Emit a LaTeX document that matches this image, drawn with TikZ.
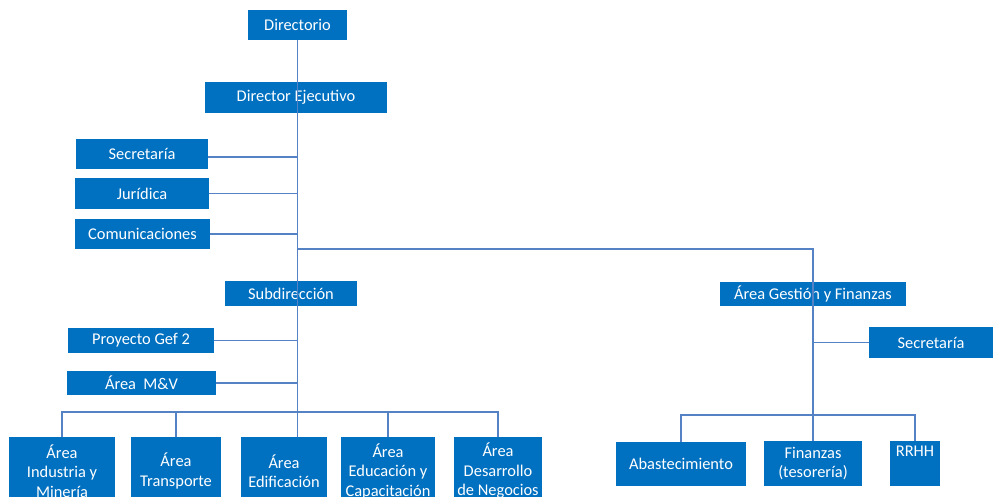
\documentclass[tikz,border=0pt]{standalone}
\usepackage{fontspec}
\newfontfamily\orgfont{Carlito}
\definecolor{boxblue}{RGB}{0,112,192}
\definecolor{lineblue}{RGB}{84,130,196}

\tikzstyle{orgbox} = [rectangle, inner sep=0pt, align=center, fill=boxblue, text=white, font=\orgfont\fontsize{16.4}{19.5}\selectfont]
\tikzstyle{orgline} = [draw=lineblue, line width=1.3pt]

\begin{document}
\begin{tikzpicture}[x=1pt, y=-1pt]
    \useasboundingbox (0,0) rectangle (993,497);

    % top of the chart
    \node (dir) [orgbox, minimum width=99, minimum height=30] at (297.5,25) {Directorio};
    \node (dirEj) [orgbox, minimum width=182, minimum height=31] at (296,97.5) {Director Ejecutivo};
    \node (sec) [orgbox, minimum width=132, minimum height=30] at (142,154) {Secretaría};
    \node (jur) [orgbox, minimum width=134, minimum height=31] at (142,193.5) {Jurídica};
    \node (com) [orgbox, minimum width=135, minimum height=30] at (142.5,234) {Comunicaciones};

    % subdireccion branch
    \node (sub) [orgbox, minimum width=132, minimum height=25] at (291,293.5) {Subdirección};
    \node (gef) [orgbox, minimum width=146, minimum height=25] at (141,340.5) {Proyecto Gef 2};
    \node (mv) [orgbox, minimum width=149, minimum height=24] at (141.5,383) {Área\ \ M\&V};
    \node (ind) [orgbox, minimum width=106, minimum height=68] at (62,471) {Área\\Industria y\\Minería};
    \node (tra) [orgbox, minimum width=90, minimum height=68] at (176,471) {Área\\Transporte};
    \node (edi) [orgbox, minimum width=86, minimum height=68] at (284,471) {Área\\Edificación};
    \node (edu) [orgbox, minimum width=94, minimum height=68] at (388,471) {Área\\Educación y\\Capacitación};
    \node (des) [orgbox, minimum width=88, minimum height=68] at (498,471) {Área\\Desarrollo\\de Negocios};

    % gestion branch
    \node (agf) [orgbox, minimum width=186, minimum height=24] at (813,294) {Área Gestión y Finanzas};
    \node (sec2) [orgbox, minimum width=124, minimum height=31] at (931,342.5) {Secretaría};
    \node (aba) [orgbox, minimum width=130, minimum height=44] at (681,464) {Abastecimiento};
    \node (fin) [orgbox, minimum width=98, minimum height=45] at (813,463.5) {Finanzas\\(tesorería)};
    \node (rrhh) [orgbox, minimum width=50, minimum height=45] at (915,463.5) {RRHH\\\strut};

    \coordinate (split) at (297.5,249);
    \coordinate (lbus) at (297.5,412);
    \coordinate (rbus) at (813,415);

    \draw [orgline] (dir.south) -- (dir.south |- edi.north);
    \draw [orgline] ([yshift=-3pt]sec.east) -- ([yshift=-3pt]sec.east -| split);
    \draw [orgline] (jur.east) -- (jur.east -| split);
    \draw [orgline] (com.east) -- (com.east -| split);
    \draw [orgline] (split) -| (fin.north);
    \draw [orgline] (gef.east) -- (gef.east -| split);
    \draw [orgline] (mv.east) -- (mv.east -| split);
    \draw [orgline] (ind.north) |- (lbus) -| (des.north);
    \draw [orgline] (tra.north) -- (tra.north |- lbus);
    \draw [orgline] (edu.north) -- (edu.north |- lbus);
    \draw [orgline] (sec2.west) -- (sec2.west -| rbus);
    \draw [orgline] (aba.north) |- (rbus) -| (rrhh.north);

\end{tikzpicture}
\end{document}
